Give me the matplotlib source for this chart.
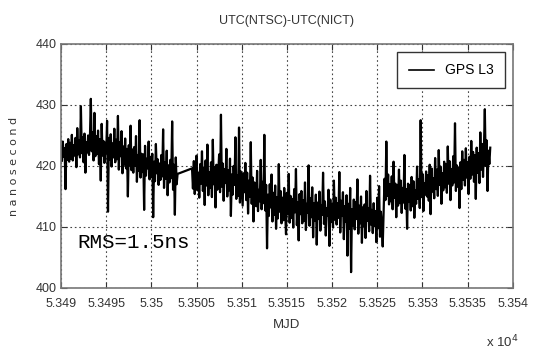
import numpy as np
import matplotlib
matplotlib.use("Agg")
import matplotlib.pyplot as plt

# GPS L3 time transfer, UTC(NTSC)-UTC(NICT) (ns)
mjd_start_1 = 53490.0
mjd_start_2 = 53504.5
step = 0.1

seg1 = [
    423.1, 420.8, 424.0, 421.5, 422.9, 416.2, 423.6, 421.0, 424.4, 420.7,
    423.8, 421.2, 425.1, 420.9, 423.4, 421.7, 424.6, 419.8, 426.2, 421.9,
    424.2, 421.4, 429.8, 422.1, 424.7, 420.6, 425.3, 418.9, 423.9, 422.2,
    425.0, 421.8, 424.6, 431.0, 422.4, 425.5, 420.9, 428.7, 421.6, 424.9,
    422.0, 425.8, 420.3, 424.4, 417.6, 426.9, 421.7, 424.1, 420.5, 423.8,
    422.1, 427.4, 412.5, 424.6, 421.0, 425.2, 419.9, 423.7, 421.4, 426.1,
    420.6, 424.3, 421.1, 428.2, 419.4, 423.9, 421.6, 425.7, 418.8, 423.2,
    420.2, 424.5, 419.6, 422.8, 415.0, 423.4, 420.1, 426.6, 419.3, 422.7,
    418.9, 423.1, 420.0, 424.9, 417.4, 421.8, 419.2, 427.5, 418.1, 422.0,
    419.0, 421.9, 412.8, 423.3, 418.4, 421.2, 419.6, 424.0, 417.8, 421.5,
    418.2, 422.0, 411.6, 420.7, 417.5, 423.6, 418.8, 421.1, 416.9, 420.4,
    417.7, 421.8, 418.3, 426.0, 416.4, 420.6, 417.9, 422.5, 415.2, 420.1,
    417.3, 421.0, 418.0, 427.3, 416.1, 420.2, 412.0, 421.4, 417.0, 418.7,
]

seg2 = [
    419.6, 416.3, 420.8, 415.4, 419.2, 421.7, 416.0, 418.9, 414.8, 420.3,
    417.1, 422.4, 415.9, 419.7, 413.6, 420.9, 416.8, 423.5, 415.2, 419.0,
    416.4, 420.6, 414.9, 424.3, 417.0, 419.8, 413.2, 420.2, 416.1, 418.8,
    421.9, 415.7, 428.4, 416.6, 420.4, 414.3, 419.5, 417.2, 422.8, 415.0,
    419.3, 416.0, 421.2, 411.8, 418.6, 415.3, 420.0, 416.9, 424.7, 414.6,
    418.4, 415.1, 426.3, 414.0, 419.1, 416.2, 413.5, 418.8, 415.7, 420.5,
    414.4, 418.9, 412.2, 417.6, 415.0, 423.9, 413.8, 418.1, 410.9, 417.3,
    416.8, 413.4, 419.2, 412.6, 416.1, 414.2, 421.0, 412.9, 417.4, 413.9,
    425.1, 412.7, 416.9, 406.5, 415.3, 411.8, 417.0, 413.2, 418.6, 410.9,
    415.6, 412.0, 416.8, 409.7, 414.9, 411.4, 420.3, 412.5, 415.9, 410.6,
    414.8, 411.1, 416.4, 412.9, 408.8, 415.6, 412.2, 418.7, 410.7, 415.1,
    411.5, 414.6, 409.9, 416.2, 412.4, 419.5, 410.3, 414.0, 407.8, 415.4,
    412.1, 415.9, 410.6, 414.4, 411.0, 417.3, 409.5, 413.8, 412.3, 420.1,
    410.2, 414.7, 411.6, 416.5, 408.3, 413.9, 411.0, 415.3, 407.1, 414.0,
    411.3, 415.8, 409.4, 413.6, 412.0, 418.9, 410.5, 414.2, 408.6, 413.1,
    411.9, 416.1, 406.9, 414.5, 410.8, 413.7, 409.9, 417.6, 411.2, 414.8,
    410.4, 413.9, 411.5, 419.0, 409.1, 414.3, 411.8, 415.7, 408.0, 413.4,
    410.9, 415.2, 405.3, 413.8, 409.7, 416.4, 402.6, 412.9, 410.2, 414.5,
    409.6, 414.1, 411.3, 417.8, 408.9, 413.5, 410.6, 415.0, 407.4, 413.2,
    410.1, 413.7, 408.2, 415.9, 411.0, 413.1, 409.3, 418.4, 410.4, 412.8,
    409.0, 413.9, 410.2, 412.6, 407.5, 414.8, 409.8, 416.7, 408.4, 412.5,
    410.3, 406.8, 412.4, 417.9, 414.4, 424.0, 415.1, 418.6, 413.7, 417.0,
    414.2, 418.3, 412.9, 420.7, 414.8, 417.1, 411.6, 416.9, 413.5, 419.4,
    413.9, 417.6, 412.3, 416.4, 414.0, 421.8, 413.0, 416.2, 409.7, 417.1,
    414.1, 416.9, 412.7, 418.2, 413.4, 417.5, 411.5, 416.0, 413.8, 419.9,
    414.6, 417.8, 413.1, 427.5, 414.9, 418.7, 412.6, 417.2, 415.3, 419.1,
    415.0, 418.5, 414.3, 420.2, 412.1, 419.6, 415.8, 418.0, 414.7, 421.3,
    416.2, 419.4, 415.1, 422.6, 416.9, 419.9, 413.8, 418.8, 416.0, 420.7,
    416.5, 420.3, 415.6, 423.2, 417.1, 420.8, 414.4, 419.5, 416.8, 421.6,
    417.3, 427.0, 415.9, 420.1, 416.6, 419.7, 413.1, 420.6, 416.2, 422.4,
    417.7, 421.0, 416.8, 422.9, 418.1, 420.6, 415.4, 421.5, 417.9, 424.1,
    418.6, 422.3, 417.4, 421.8, 414.6, 423.0, 418.9, 422.1, 417.2, 425.5,
    419.4, 423.6, 418.2, 422.8, 429.3, 420.0, 424.2, 415.9, 422.5, 420.3,
    423.0,
]

x_ticks = [53490, 53495, 53500, 53505, 53510, 53515, 53520, 53525, 53530, 53535, 53540]
y_ticks = [400, 410, 420, 430, 440]

plt.rcParams['font.family'] = ['Liberation Sans', 'DejaVu Sans']


def main():
    mjd = np.concatenate([mjd_start_1 + step * np.arange(len(seg1)),
                          mjd_start_2 + step * np.arange(len(seg2))])
    ns = np.array(seg1 + seg2)

    fig = plt.figure(figsize=(5.37, 3.6), dpi=100)
    ax = fig.add_axes([0.1136, 0.2, 0.8414, 0.678])

    ax.plot(mjd, ns, color='black', lw=1.6, label='GPS L3')

    ax.set_xlim(53490, 53540)
    ax.set_ylim(400, 440)
    ax.set_xticks(x_ticks)
    ax.set_xticklabels([f"{v / 1e4:g}" for v in x_ticks])
    ax.set_yticks(y_ticks)
    ax.tick_params(direction='in', top=True, right=True, length=4,
                   labelsize=9, colors='#333333', pad=3)
    ax.tick_params(axis='x', pad=7)
    ax.grid(True, color='#444444', linestyle=(0, (1.5, 2.5)), lw=0.8)
    for s in ax.spines.values():
        s.set_color('#777777')
        s.set_linewidth(1.2)

    ax.set_title("UTC(NTSC)-UTC(NICT)", fontsize=9, color='#333333', pad=14)
    ax.set_xlabel("MJD", fontsize=9.5, color='#333333', labelpad=7)
    ax.set_ylabel("n a n o s e c o n d", fontsize=8, color='#333333', labelpad=12,
                  family=['DejaVu Sans'])
    fig.text(0.905, 0.035, r"x 10$^4$", fontsize=9.5, color='#333333')

    ax.text(53491.8, 407.4, "RMS=1.5ns", family=['Liberation Mono', 'DejaVu Sans Mono'],
            fontsize=15, va='center', ha='left', color='black')

    leg = ax.legend(loc='upper right', fontsize=10, fancybox=False,
                    edgecolor='#333333', framealpha=1, handlelength=1.8,
                    borderpad=0.8, borderaxespad=0.6)
    leg.get_frame().set_linewidth(1.0)
    for h in leg.get_lines():
        h.set_linewidth(1.2)

    fig.savefig("out.png", dpi=100)


if __name__ == "__main__":
    main()
